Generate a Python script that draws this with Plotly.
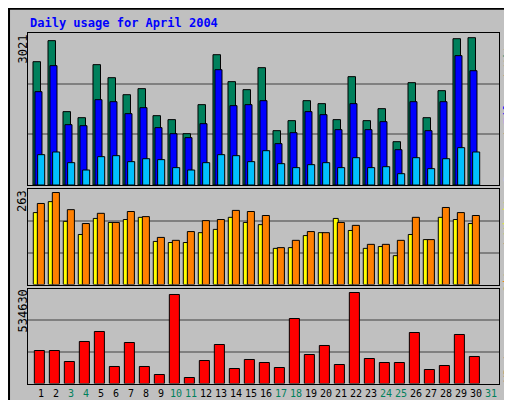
import plotly.graph_objects as go

days = list(range(1, 31))
day_labels = [str(d) for d in range(1, 32)]
weekend_days = [3, 4, 10, 11, 17, 18, 24, 25, 31]
hits = [2451,2869,1458,1338,2392,2133,1795,1915,1378,1299,1020,1597,2590,2054,1895,2332,1080,1279,1676,1617,1299,2153,1279,1517,861,2034,1338,1875,2908,2928]
files = [1855,2372,1199,1179,1696,1656,1418,1537,1140,1020,941,1219,2292,1577,1597,1676,822,1040,1458,1398,1100,1617,1100,1259,702,1656,1080,1656,2571,2272]
pages = [603,656,444,298,563,583,464,523,504,345,298,444,603,583,464,682,424,345,404,444,345,543,345,364,225,543,325,523,742,656]
visits = [197,227,173,137,181,170,178,184,118,115,115,142,151,184,170,164,99,101,134,142,181,148,99,104,79,137,123,184,178,167]
sites = [222,252,205,167,195,170,200,186,129,121,145,175,178,203,200,189,101,121,145,142,170,162,110,110,121,184,123,211,197,189]
kbytes = [185700,185700,123800,236400,292700,95700,230700,95700,50650,500900,33770,129400,219500,84400,135100,118200,90000,365800,163200,213900,106900,512100,140700,118200,118200,287000,78800,101300,275800,152000]
max_hits, max_sites, max_kb = 3021, 263, 534630

fig = go.Figure()
line = dict(color="black", width=1)
def bar(y, color, off, w, xa, ya):
    fig.add_trace(go.Bar(x=days, y=y, marker=dict(color=color, line=line), offset=off, width=w, xaxis=xa, yaxis=ya))

bar(hits, "#00805C", -0.40, 0.50, "x", "y")
bar(files, "#0000FF", -0.27, 0.47, "x", "y")
bar(pages, "#00C0FF", -0.09, 0.47, "x", "y")
bar(visits, "#FFFF00", -0.38, 0.33, "x2", "y2")
bar(sites, "#FF8000", -0.11, 0.47, "x2", "y2")
bar(kbytes, "#FF0000", -0.31, 0.67, "x3", "y3")

xr = [0.267, 31.667]
xd = [20/512, 491/512]
def xax(show):
    d = dict(range=xr, domain=xd, showgrid=False, zeroline=False, showline=True, linecolor="black", mirror=True,
             fixedrange=True, automargin=False)
    if show:
        d.update(tickmode="array", tickvals=[v + 0.13 for v in range(1, 32)],
                 ticktext=[f"<span style='color:#00805C'>{l}</span>" if int(l) in weekend_days else l for l in day_labels],
                 ticks="", tickangle=0, tickfont=dict(family="DejaVu Sans Mono", size=10, color="black"))
    else:
        d.update(showticklabels=False, ticks="")
    return d
def yax(mx, dom, anchor):
    return dict(range=[0, mx], domain=dom, anchor=anchor, tickmode="array", tickvals=[mx/3, 2*mx/3],
                showticklabels=False, gridcolor="#808080", gridwidth=1.5, zeroline=False, automargin=False,
                showline=True, linecolor="black", mirror=True, fixedrange=True)

fig.update_layout(
    width=512, height=400, margin=dict(l=0, r=0, t=0, b=0, autoexpand=False),
    paper_bgcolor="#C0C0C0", plot_bgcolor="#C0C0C0", showlegend=False, barmode="overlay",
    xaxis=xax(False), xaxis2=dict(xax(False), anchor="y2"), xaxis3=dict(xax(True), anchor="y3"),
    yaxis=yax(max_hits, [(400-177)/400, (400-25)/400], "x"),
    yaxis2=yax(max_sites, [(400-276.5)/400, (400-180.5)/400], "x2"),
    yaxis3=yax(max_kb, [(400-375.5)/400, (400-280.5)/400], "x3"),
    font=dict(family="DejaVu Sans Mono", size=11),
)

ann = [
    dict(x=20/512, y=1-15/400, text="<b>Daily usage for April 2004</b>", xanchor="left", yanchor="middle", font=dict(color="#0000FF", size=12)),
    dict(x=14/512, y=1-25/400, text=str(max_hits), textangle=-90, xanchor="center", yanchor="top", font=dict(color="black", size=12)),
    dict(x=14/512, y=1-180/400, text=str(max_sites), textangle=-90, xanchor="center", yanchor="top", font=dict(color="black", size=12)),
    dict(x=14/512, y=1-280/400, text=str(max_kb), textangle=-90, xanchor="center", yanchor="top", font=dict(color="black", size=12)),
    dict(x=500/512, y=1-28/400, text="<span style='color:#00C0FF'>Pages</span> / <span style='color:#0000FF'>Files</span> / <span style='color:#00805C'>Hits</span>", textangle=-90, xanchor="center", yanchor="top", font=dict(color="black", size=12)),
    dict(x=500/512, y=1-182/400, text="<span style='color:#FF8000'>Sites</span> / <span style='color:#FFFF00'>Visits</span>", textangle=-90, xanchor="center", yanchor="top", font=dict(color="black", size=12)),
    dict(x=500/512, y=1-330/400, text="<span style='color:#FF0000'>KBytes</span>", textangle=-90, xanchor="center", yanchor="top", font=dict(color="black", size=12)),
]
for a in ann:
    a.update(xref="paper", yref="paper", showarrow=False)
fig.update_layout(annotations=ann, shapes=[
    dict(type="rect", xref="paper", yref="paper", x0=0.002, y0=0.002, x1=0.998, y1=0.998, line=dict(color="black", width=2)),
    dict(type="line", xref="paper", yref="paper", x0=4/512, y0=1-396/400, x1=508/512, y1=1-396/400, line=dict(color="#808080", width=3)),
    dict(type="line", xref="paper", yref="paper", x0=508/512, y0=1-396/400, x1=508/512, y1=1-4/400, line=dict(color="#808080", width=3)),
])
fig.write_html("out.html")
